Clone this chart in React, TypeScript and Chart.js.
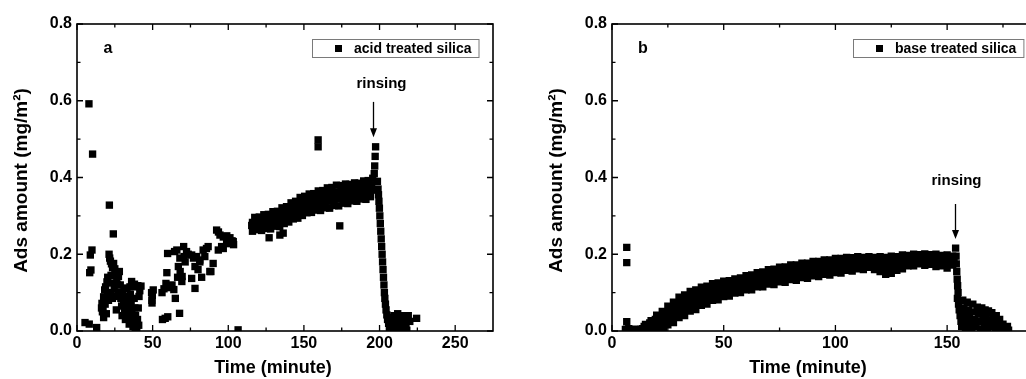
import React, { useEffect, useRef } from "react";
import { Chart, registerables } from "chart.js";

Chart.register(...registerables);

type Pt = [number, number];

// ---------- Panel a: acid treated silica (time in minutes, ads amount in mg/m²) ----------
const acidEarly: Pt[] = [
  [5.3, 0.022], [8.1, 0.018], [13.0, 0.009], [7.9, 0.592], [10.3, 0.461], [8.8, 0.198], [9.9, 0.211],
  [8.4, 0.152], [9.2, 0.159], [21.4, 0.328], [24.0, 0.253],
  [16.2, 0.06], [16.5, 0.072], [16.8, 0.05], [17.2, 0.055], [17.6, 0.089], [17.6, 0.035], [18.3, 0.107],
  [18.6, 0.07], [18.9, 0.115], [19.4, 0.045], [19.8, 0.128], [20.3, 0.14], [20.1, 0.095], [20.8, 0.08],
  [21.2, 0.2], [21.6, 0.19], [22.1, 0.182], [22.8, 0.175], [23.5, 0.165], [24.2, 0.176], [25.0, 0.162],
  [25.8, 0.148], [26.3, 0.135], [26.8, 0.12], [27.4, 0.142], [28.0, 0.155], [22.5, 0.145], [23.0, 0.125],
  [22.2, 0.1], [23.4, 0.085], [24.6, 0.11], [25.5, 0.09], [27.0, 0.1], [28.6, 0.12], [26.0, 0.055],
  [29.0, 0.085], [29.5, 0.065], [30.2, 0.095], [30.8, 0.075], [31.4, 0.055], [32.0, 0.09], [32.6, 0.07],
  [33.1, 0.045], [33.7, 0.08], [34.2, 0.06], [34.8, 0.035], [35.3, 0.095], [35.8, 0.07], [36.3, 0.05],
  [36.8, 0.03], [37.3, 0.115], [37.8, 0.085], [38.2, 0.06], [38.7, 0.04], [39.1, 0.02], [39.5, 0.008],
  [40.0, 0.03], [40.5, 0.06], [41.0, 0.09], [41.5, 0.105], [36.1, 0.129], [38.0, 0.122], [40.2, 0.118],
  [42.3, 0.117], [35.0, 0.115], [33.0, 0.11], [31.0, 0.112], [29.8, 0.04], [37.0, 0.012], [38.5, 0.002],
  [40.8, 0.015], [34.5, 0.018], [32.0, 0.03],
];

const acidRise: Pt[] = [
  [49.3, 0.1], [49.5, 0.08], [49.8, 0.092], [49.6, 0.073], [50.4, 0.107],
  [56.5, 0.03], [58.3, 0.033], [60.0, 0.037], [56.2, 0.1], [57.5, 0.11], [58.8, 0.124], [60.2, 0.118],
  [61.5, 0.113], [62.8, 0.12], [64.0, 0.108], [59.4, 0.152], [59.9, 0.202], [64.5, 0.207], [65.0, 0.085],
  [66.0, 0.211], [67.0, 0.168], [68.2, 0.155], [69.5, 0.142], [69.3, 0.129], [67.8, 0.046], [70.5, 0.22],
  [70.8, 0.194], [71.5, 0.18], [66.5, 0.14], [68.0, 0.19],
  [72.4, 0.207], [73.5, 0.2], [75.8, 0.198], [77.0, 0.19], [79.1, 0.194], [81.2, 0.185], [83.4, 0.211],
  [85.6, 0.215], [86.7, 0.22], [78.0, 0.168], [81.2, 0.18], [84.5, 0.194], [90.0, 0.176], [88.5, 0.155],
  [75.8, 0.137], [82.4, 0.14], [78.0, 0.111], [87.8, 0.155], [80.0, 0.16],
  [92.3, 0.263], [93.5, 0.258], [94.5, 0.25], [96.7, 0.245], [99.0, 0.248], [101.1, 0.243], [102.5, 0.235],
  [103.5, 0.225], [93.4, 0.211], [95.6, 0.22], [96.7, 0.215], [98.9, 0.228], [101.1, 0.228], [103.3, 0.233],
  [100.0, 0.238], [106.5, 0.003],
];

const acidBand: Pt[] = [
  [116, 0.26], [119, 0.264], [122, 0.262], [125, 0.267], [128, 0.266], [131, 0.273], [134, 0.272],
  [137, 0.28], [140, 0.284], [143, 0.292], [146, 0.294], [149, 0.301], [152, 0.308], [155, 0.309],
  [158, 0.315], [161, 0.314], [164, 0.321], [167, 0.32], [170, 0.327], [173, 0.326], [176, 0.333],
  [179, 0.332], [182, 0.339], [185, 0.338], [188, 0.344], [191, 0.343], [194, 0.35],
  [117.5, 0.274], [120.5, 0.272], [123.5, 0.279], [126.5, 0.278], [129.5, 0.285], [132.5, 0.286],
  [135.5, 0.293], [138.5, 0.296], [141.5, 0.304], [144.5, 0.307], [147.5, 0.316], [150.5, 0.32],
  [153.5, 0.325], [156.5, 0.326], [159.5, 0.332], [162.5, 0.333], [165.5, 0.338], [168.5, 0.34],
  [171.5, 0.344], [174.5, 0.345], [177.5, 0.349], [180.5, 0.35], [183.5, 0.355], [186.5, 0.355],
  [189.5, 0.36], [192.5, 0.361], [195.5, 0.367],
  [116.75, 0.279], [119.75, 0.278], [122.75, 0.284], [125.75, 0.285], [128.75, 0.291], [131.75, 0.292],
  [134.75, 0.299], [137.75, 0.302], [140.75, 0.31], [143.75, 0.314], [146.75, 0.322], [149.75, 0.327],
  [152.75, 0.332], [155.75, 0.334], [158.75, 0.34], [161.75, 0.341], [164.75, 0.346], [167.75, 0.348],
  [170.75, 0.353], [173.75, 0.353], [176.75, 0.358], [179.75, 0.358], [182.75, 0.362], [185.75, 0.363],
  [188.75, 0.367], [191.75, 0.368], [194.75, 0.374],
  [116, 0.283], [119, 0.284], [122, 0.289], [125, 0.291], [128, 0.296], [131, 0.297], [134, 0.304],
  [137, 0.307], [140, 0.316], [143, 0.32], [146, 0.328], [149, 0.333], [152, 0.339], [155, 0.341],
  [158, 0.347], [161, 0.348], [164, 0.354], [167, 0.356], [170, 0.362], [173, 0.361], [176, 0.366],
  [179, 0.365], [182, 0.369], [185, 0.37], [188, 0.374], [191, 0.375], [194, 0.381],
  [117.5, 0.296], [120.5, 0.297], [123.5, 0.303], [126.5, 0.304], [129.5, 0.311], [132.5, 0.312],
  [135.5, 0.321], [138.5, 0.324], [141.5, 0.334], [144.5, 0.338], [147.5, 0.348], [150.5, 0.351],
  [153.5, 0.357], [156.5, 0.358], [159.5, 0.365], [162.5, 0.366], [165.5, 0.373], [168.5, 0.374],
  [171.5, 0.38], [174.5, 0.379], [177.5, 0.383], [180.5, 0.382], [183.5, 0.386], [186.5, 0.385],
  [189.5, 0.391], [192.5, 0.392], [195.5, 0.398],
  [127.0, 0.243], [134.1, 0.25], [136.3, 0.255], [159.4, 0.498], [159.4, 0.48], [173.7, 0.274], [115.5, 0.275],
];

const acidRinse: Pt[] = [
  [196.5, 0.41], [196.8, 0.43], [197.1, 0.455], [197.4, 0.48], [198.6, 0.39], [199.0, 0.37], [199.3, 0.355],
  [199.6, 0.338], [199.9, 0.32], [200.2, 0.3], [200.5, 0.28], [200.8, 0.26], [201.1, 0.24], [201.4, 0.22],
  [201.7, 0.2], [202.0, 0.18], [202.3, 0.16], [202.6, 0.14], [202.9, 0.12], [203.2, 0.1], [203.5, 0.085],
  [203.9, 0.07], [204.3, 0.055], [204.8, 0.042], [205.3, 0.03],
  [206, 0.02], [206.5, 0.005], [207, 0.012], [207.5, 0.035], [208, 0.005], [208.5, 0.022], [209, 0.028],
  [209.5, 0.04], [210, 0.012], [210.5, 0.0], [211, 0.02], [211.5, 0.032], [212, 0.045], [212.5, 0.008],
  [213, 0.018], [213.5, 0.002], [214, 0.035], [214.5, 0.01], [215, 0.022], [216, 0.008], [216.5, 0.04],
  [217, 0.028], [217.5, 0.015], [218, 0.002], [218.5, 0.03], [219, 0.04], [220, 0.025], [224.5, 0.033],
];

// ---------- Panel b: base treated silica ----------
const baseStart: Pt[] = [
  [6.6, 0.218], [6.6, 0.178], [6.6, 0.024], [6.0, 0.004], [7.5, 0.006], [8.8, 0.003], [10.2, 0.005],
  [11.2, 0.002], [23.1, 0.007],
];

const baseBandLow: Pt[] = [
  [12.5, 0.003], [15, 0.006], [17.5, 0.003], [20, 0.007], [22.5, 0.006], [25, 0.016], [27.5, 0.022],
  [30, 0.035], [32.5, 0.04], [35, 0.052], [37.5, 0.056], [40, 0.067], [42.5, 0.07], [45, 0.08],
  [47.5, 0.081], [50, 0.09], [52.5, 0.091], [55, 0.099], [57.5, 0.1], [60, 0.107], [62.5, 0.107],
  [65, 0.115], [67.5, 0.115], [70, 0.122], [72.5, 0.121], [75, 0.128], [77.5, 0.127], [80, 0.134],
  [82.5, 0.132], [85, 0.139], [87.5, 0.137], [90, 0.144], [92.5, 0.142], [95, 0.148], [97.5, 0.146],
  [100, 0.152], [102.5, 0.151], [105, 0.158], [107.5, 0.156], [110, 0.162], [112.5, 0.16], [115, 0.166],
  [117.5, 0.16], [120, 0.155], [122.5, 0.148], [125, 0.15], [127.5, 0.158], [130, 0.162], [132.5, 0.17],
  [135, 0.17], [137.5, 0.175], [140, 0.171], [142.5, 0.174], [145, 0.168], [147.5, 0.17], [150, 0.164],
  [152.5, 0.172],
  [13.1, 0.005], [15.6, 0.01], [18.1, 0.011], [20.6, 0.017], [23.1, 0.02], [25.6, 0.031], [28.1, 0.038],
  [30.6, 0.05], [33.1, 0.056], [35.6, 0.067], [38.1, 0.071], [40.6, 0.08], [43.1, 0.083], [45.6, 0.092],
  [48.1, 0.093], [50.6, 0.101], [53.1, 0.102], [55.6, 0.109], [58.1, 0.111], [60.6, 0.117], [63.1, 0.118],
  [65.6, 0.125], [68.1, 0.126], [70.6, 0.132], [73.1, 0.132], [75.6, 0.138], [78.1, 0.138], [80.6, 0.144],
  [83.1, 0.143], [85.6, 0.149], [88.1, 0.148], [90.6, 0.154], [93.1, 0.153], [95.6, 0.158], [98.1, 0.157],
  [100.6, 0.162], [103.1, 0.161], [105.6, 0.167], [108.1, 0.166], [110.6, 0.17], [113.1, 0.169],
  [115.6, 0.173], [118.1, 0.168], [120.6, 0.164], [123.1, 0.161], [125.6, 0.162], [128.1, 0.169],
  [130.6, 0.172], [133.1, 0.178], [135.6, 0.178], [138.1, 0.182], [140.6, 0.179], [143.1, 0.179],
  [145.6, 0.177], [148.1, 0.176], [150.6, 0.174], [153.1, 0.178],
];

const baseBandHigh: Pt[] = [
  [13.75, 0.006], [16.25, 0.014], [18.75, 0.018], [21.25, 0.027], [23.75, 0.033], [26.25, 0.046],
  [28.75, 0.053], [31.25, 0.065], [33.75, 0.071], [36.25, 0.081], [38.75, 0.085], [41.25, 0.093],
  [43.75, 0.096], [46.25, 0.103], [48.75, 0.105], [51.25, 0.111], [53.75, 0.113], [56.25, 0.119],
  [58.75, 0.121], [61.25, 0.127], [63.75, 0.129], [66.25, 0.135], [68.75, 0.137], [71.25, 0.142],
  [73.75, 0.143], [76.25, 0.148], [78.75, 0.149], [81.25, 0.153], [83.75, 0.154], [86.25, 0.158],
  [88.75, 0.159], [91.25, 0.163], [93.75, 0.163], [96.25, 0.167], [98.75, 0.167], [101.25, 0.171],
  [103.75, 0.171], [106.25, 0.175], [108.75, 0.175], [111.25, 0.178], [113.75, 0.177], [116.25, 0.179],
  [118.75, 0.175], [121.25, 0.172], [123.75, 0.173], [126.25, 0.174], [128.75, 0.179], [131.25, 0.181],
  [133.75, 0.185], [136.25, 0.185], [138.75, 0.188], [141.25, 0.187], [143.75, 0.184], [146.25, 0.185],
  [148.75, 0.181], [151.25, 0.183],
  [14.4, 0.012], [16.9, 0.021], [19.4, 0.03], [21.9, 0.039], [24.4, 0.049], [26.9, 0.061], [29.4, 0.071],
  [31.9, 0.08], [34.4, 0.087], [36.9, 0.094], [39.4, 0.1], [41.9, 0.105], [44.4, 0.11], [46.9, 0.114],
  [49.4, 0.118], [51.9, 0.121], [54.4, 0.125], [56.9, 0.129], [59.4, 0.133], [61.9, 0.137], [64.4, 0.141],
  [66.9, 0.145], [69.4, 0.149], [71.9, 0.152], [74.4, 0.155], [76.9, 0.158], [79.4, 0.161], [81.9, 0.163],
  [84.4, 0.166], [86.9, 0.168], [89.4, 0.17], [91.9, 0.172], [94.4, 0.174], [96.9, 0.176], [99.4, 0.178],
  [101.9, 0.18], [104.4, 0.182], [106.9, 0.183], [109.4, 0.185], [111.9, 0.185], [114.4, 0.186],
  [116.9, 0.186], [119.4, 0.185], [121.9, 0.182], [124.4, 0.184], [126.9, 0.184], [129.4, 0.189],
  [131.9, 0.189], [134.4, 0.193], [136.9, 0.192], [139.4, 0.195], [141.9, 0.193], [144.4, 0.192],
  [146.9, 0.191], [149.4, 0.19], [151.9, 0.189],
  [15, 0.017], [17.5, 0.027], [20, 0.041], [22.5, 0.051], [25, 0.065], [27.5, 0.075], [30, 0.088],
  [32.5, 0.094], [35, 0.103], [37.5, 0.107], [40, 0.114], [42.5, 0.117], [45, 0.123], [47.5, 0.125],
  [50, 0.13], [52.5, 0.131], [55, 0.136], [57.5, 0.138], [60, 0.144], [62.5, 0.146], [65, 0.152],
  [67.5, 0.154], [70, 0.16], [72.5, 0.161], [75, 0.166], [77.5, 0.167], [80, 0.172], [82.5, 0.172],
  [85, 0.177], [87.5, 0.177], [90, 0.181], [92.5, 0.181], [95, 0.185], [97.5, 0.185], [100, 0.189],
  [102.5, 0.189], [105, 0.192], [107.5, 0.191], [110, 0.194], [112.5, 0.192], [115, 0.194], [117.5, 0.192],
  [120, 0.194], [122.5, 0.192], [125, 0.195], [127.5, 0.194], [130, 0.198], [132.5, 0.197], [135, 0.2],
  [137.5, 0.199], [140, 0.201], [142.5, 0.199], [145, 0.2], [147.5, 0.197], [150, 0.198], [152.5, 0.195],
];

const baseRinse: Pt[] = [
  [153.8, 0.216], [154.0, 0.195], [154.1, 0.175], [154.3, 0.155], [154.5, 0.135], [154.7, 0.118],
  [154.9, 0.1], [154.6, 0.085], [155.1, 0.07], [155.4, 0.055], [155.8, 0.04], [156.2, 0.025], [156.5, 0.012],
  [157, 0.08], [157.5, 0.06], [157.2, 0.045], [158, 0.03], [158.5, 0.015], [158.2, 0.002], [159, 0.075],
  [159.5, 0.055], [160, 0.038], [160.5, 0.02], [161, 0.005], [161.5, 0.07], [162, 0.05], [162.5, 0.03],
  [163, 0.012], [163.5, 0.062], [164, 0.045], [164.5, 0.025], [165, 0.005], [165.5, 0.06], [166, 0.04],
  [166.5, 0.018], [167, 0.055], [167.5, 0.035], [168, 0.008], [168.5, 0.052], [169, 0.028], [169.5, 0.012],
  [170, 0.048], [170.5, 0.032], [171, 0.015], [171.5, 0.0], [172, 0.04], [172.5, 0.022], [173, 0.008],
  [173.5, 0.03], [174, 0.015], [174.5, 0.002], [175, 0.018], [176, 0.006], [177, 0.012], [177.5, 0.002],
];

// ---------- Axis ticks ----------
const acidXTicks = [0, 50, 100, 150, 200, 250];
const acidXMinor = [25, 75, 125, 175, 225];
const baseXTicks = [0, 50, 100, 150];
const baseXMinor = [25, 75, 125, 175];
const yTicks = [0, 0.2, 0.4, 0.6, 0.8];
const yMinor = [0.1, 0.3, 0.5, 0.7];

// rinsing arrows: time, arrow top, arrow tip, label baseline (data units)
const acidRinseMark = { time: 196, top: 0.597, tip: 0.505, label: 0.634 };
const baseRinseMark = { time: 153.5, top: 0.331, tip: 0.24, label: 0.38 };

const FONT = '"Liberation Sans", Arial, Helvetica, sans-serif';

interface PanelCfg {
  letter: string;
  legend: string;
  points: Pt[];
  xMax: number;
  xTicks: number[];
  xMinor: number[];
  rinse: { time: number; top: number; tip: number; label: number };
  rinseDx: number;
  canvasLeft: number;
  canvasW: number;
  yAxisW: number;
  padRight: number;
  legendLeft: number;
}

const panels: PanelCfg[] = [
  {
    letter: "a",
    legend: "acid treated silica",
    points: [...acidEarly, ...acidRise, ...acidBand, ...acidRinse],
    xMax: 275,
    xTicks: acidXTicks,
    xMinor: acidXMinor,
    rinse: acidRinseMark,
    rinseDx: 8,
    canvasLeft: 0,
    canvasW: 510,
    yAxisW: 77,
    padRight: 17,
    legendLeft: 235,
  },
  {
    letter: "b",
    legend: "base treated silica",
    points: [...baseStart, ...baseBandLow, ...baseBandHigh, ...baseRinse],
    xMax: 190,
    xTicks: baseXTicks,
    xMinor: baseXMinor,
    rinse: baseRinseMark,
    rinseDx: 1,
    canvasLeft: 510,
    canvasW: 540,
    yAxisW: 102,
    padRight: 13.5,
    legendLeft: 241,
  },
];

function makeDecor(cfg: PanelCfg) {
  return {
    id: "decor",
    afterDatasetsDraw(chart: any) {
      const ctx: CanvasRenderingContext2D = chart.ctx;
      const a = chart.chartArea;
      const xs = chart.scales.x;
      const ys = chart.scales.y;
      ctx.save();
      ctx.strokeStyle = "#000";
      ctx.fillStyle = "#000";

      // frame
      ctx.lineWidth = 1.6;
      ctx.strokeRect(a.left, a.top, a.right - a.left, a.bottom - a.top);

      // inward ticks on all four sides
      ctx.lineWidth = 1.3;
      const xTick = (v: number, len: number) => {
        const px = xs.getPixelForValue(v);
        if (px < a.left - 0.5 || px > a.right + 0.5) return;
        ctx.beginPath();
        ctx.moveTo(px, a.bottom);
        ctx.lineTo(px, a.bottom - len);
        ctx.moveTo(px, a.top);
        ctx.lineTo(px, a.top + len);
        ctx.stroke();
      };
      const yTick = (v: number, len: number) => {
        const py = ys.getPixelForValue(v);
        ctx.beginPath();
        ctx.moveTo(a.left, py);
        ctx.lineTo(a.left + len, py);
        ctx.moveTo(a.right, py);
        ctx.lineTo(a.right - len, py);
        ctx.stroke();
      };
      cfg.xTicks.forEach((v) => xTick(v, 6));
      cfg.xMinor.forEach((v) => xTick(v, 3.5));
      yTicks.forEach((v) => yTick(v, 6));
      yMinor.forEach((v) => yTick(v, 3.5));

      // axis titles
      ctx.textAlign = "center";
      ctx.textBaseline = "middle";
      ctx.font = `bold 18px ${FONT}`;
      ctx.fillText("Time (minute)", a.left + 196, 368);
      ctx.save();
      ctx.translate(a.left - 55, (a.top + a.bottom) / 2 + 3);
      ctx.rotate(-Math.PI / 2);
      ctx.font = `bold 19px ${FONT}`;
      ctx.fillText("Ads amount (mg/m²)", 0, 0);
      ctx.restore();

      // panel letter
      ctx.font = `bold 16px ${FONT}`;
      ctx.fillText(cfg.letter, a.left + 31, a.top + 25);

      // legend
      ctx.font = `bold 14px ${FONT}`;
      const tw = ctx.measureText(cfg.legend).width;
      const bx = a.left + cfg.legendLeft;
      const by = a.top + 15;
      const bw = 42 + tw + 7;
      const bh = 18;
      ctx.lineWidth = 1;
      ctx.strokeStyle = "#7a7a7a";
      ctx.strokeRect(bx + 0.5, by + 0.5, bw, bh);
      ctx.fillStyle = "#000";
      ctx.fillRect(bx + 23, by + 6, 7, 7);
      ctx.textAlign = "left";
      ctx.fillText(cfg.legend, bx + 42, by + 10);

      // rinsing arrow and label
      const rx = Math.round(xs.getPixelForValue(cfg.rinse.time)) + 0.5;
      const rTop = ys.getPixelForValue(cfg.rinse.top);
      const rTip = ys.getPixelForValue(cfg.rinse.tip);
      ctx.strokeStyle = "#000";
      ctx.lineWidth = 1.3;
      ctx.beginPath();
      ctx.moveTo(rx, rTop);
      ctx.lineTo(rx, rTip - 6);
      ctx.stroke();
      ctx.beginPath();
      ctx.moveTo(rx - 3.5, rTip - 9);
      ctx.lineTo(rx + 3.5, rTip - 9);
      ctx.lineTo(rx, rTip);
      ctx.closePath();
      ctx.fill();
      ctx.font = `bold 15px ${FONT}`;
      ctx.textAlign = "center";
      ctx.textBaseline = "alphabetic";
      ctx.fillText("rinsing", rx + cfg.rinseDx, ys.getPixelForValue(cfg.rinse.label));

      ctx.restore();
    },
  };
}

function Panel({ cfg }: { cfg: PanelCfg }) {
  const ref = useRef<HTMLCanvasElement>(null);
  useEffect(() => {
    if (!ref.current) return;
    const tickFont = { family: FONT, size: 16, weight: "bold" as const };
    const chart = new Chart(ref.current, {
      type: "scatter",
      data: {
        datasets: [
          {
            label: cfg.legend,
            data: cfg.points.map(([x, y]) => ({ x, y })),
            pointStyle: "rect",
            pointRadius: 5.2,
            pointHoverRadius: 5.2,
            pointBorderWidth: 0,
            backgroundColor: "#000",
            borderColor: "#000",
            clip: 0,
          } as any,
        ],
      },
      options: {
        animation: false,
        responsive: false,
        events: [],
        layout: { padding: { left: 0, top: 24, right: cfg.padRight, bottom: 0 } },
        plugins: { legend: { display: false }, tooltip: { enabled: false } },
        scales: {
          x: {
            type: "linear",
            min: 0,
            max: cfg.xMax,
            grid: { display: false, drawTicks: false, tickLength: 0 },
            border: { display: false },
            afterFit: (s: any) => {
              s.height = 48;
            },
            afterBuildTicks: (s: any) => {
              s.ticks = cfg.xTicks.map((v) => ({ value: v }));
            },
            ticks: {
              padding: 3,
              autoSkip: false,
              maxRotation: 0,
              color: "#000",
              font: tickFont,
              callback: (v: any) => String(v),
            },
          },
          y: {
            type: "linear",
            min: 0,
            max: 0.8,
            grid: { display: false, drawTicks: false, tickLength: 0 },
            border: { display: false },
            afterFit: (s: any) => {
              s.width = cfg.yAxisW;
            },
            afterBuildTicks: (s: any) => {
              s.ticks = yTicks.map((v) => ({ value: v }));
            },
            ticks: {
              padding: 5,
              color: "#000",
              font: tickFont,
              callback: (v: any) => Number(v).toFixed(1),
            },
          },
        },
      },
      plugins: [makeDecor(cfg)],
    });
    return () => chart.destroy();
  }, [cfg]);
  return (
    <canvas
      ref={ref}
      width={cfg.canvasW}
      height={379}
      style={{ position: "absolute", left: cfg.canvasLeft, top: 0, width: cfg.canvasW, height: 379 }}
    />
  );
}

export default function App() {
  return (
    <div
      style={{
        position: "fixed",
        left: 0,
        top: 0,
        width: 1026,
        height: 379,
        overflow: "hidden",
        background: "#fff",
      }}
    >
      {panels.map((p) => (
        <Panel key={p.letter} cfg={p} />
      ))}
    </div>
  );
}
